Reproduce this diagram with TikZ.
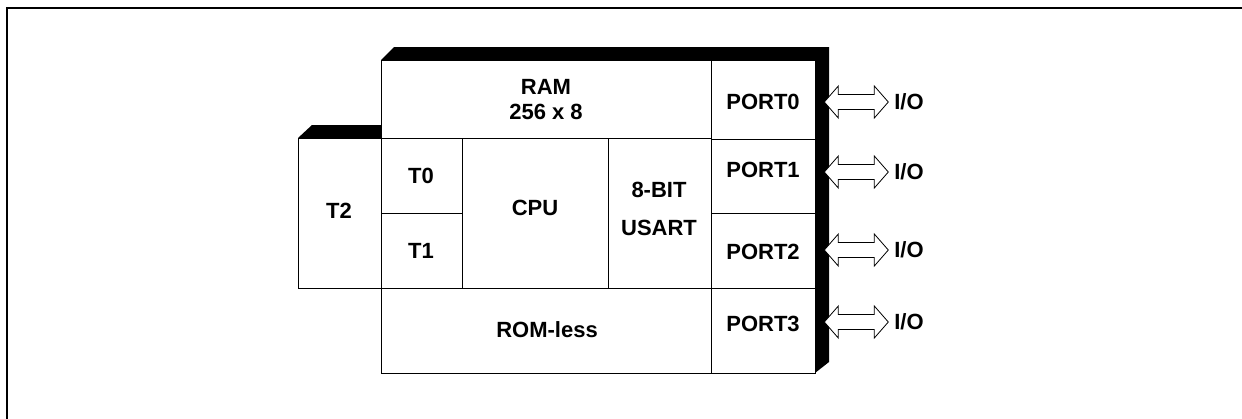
\documentclass[tikz,border=0pt]{standalone}
\usepackage{fontspec}
\setmainfont{Liberation Sans}
\usetikzlibrary{calc}

\tikzset{
    blk/.style={draw, line width=1.3pt, inner sep=0pt, anchor=north west},
    lbl/.style={font=\fontsize{22}{25}\selectfont\bfseries, inner sep=0pt, align=center},
    iobus/.style={draw, line width=0.8pt, fill=white, line join=miter},
}

\begin{document}
\begin{tikzpicture}[x=1pt, y=-1pt]
    \useasboundingbox (0,0) rectangle (1242,418);

    % Marco
    \draw[line width=2pt] (7,440) -- (7,8) -- (1260,8);

    % Sombras negras
    \fill (381,60) -- (394,47) -- (829,47) -- (829,362) -- (815,373) -- (815,60) -- cycle;
    \fill (298,138) -- (312,125) -- (381,125) -- (381,138) -- cycle;

    % Bloques
    \node[blk, minimum width=330, minimum height=78]  (ram)   at (381,60)  {};
    \node[blk, minimum width=81,  minimum height=75]  (t0)    at (381,138) {};
    \node[blk, minimum width=81,  minimum height=75]  (t1)    at (381,213) {};
    \node[blk, minimum width=146, minimum height=150] (cpu)   at (462,138) {};
    \node[blk, minimum width=103, minimum height=150] (usart) at (608,138) {};
    \node[blk, minimum width=330, minimum height=85]  (rom)   at (381,288) {};
    \node[blk, minimum width=83,  minimum height=150] (t2)    at (298,138) {};
    \node[blk, minimum width=104, minimum height=79]  (port0) at (711,60)  {};
    \node[blk, minimum width=104, minimum height=74]  (port1) at (711,139) {};
    \node[blk, minimum width=104, minimum height=75]  (port2) at (711,213) {};
    \node[blk, minimum width=104, minimum height=85]  (port3) at (711,288) {};

    % Textos
    \node[lbl] (ramtxt)   at (546,100) {RAM\\256 x 8};
    \node[lbl] (t0txt)    at (421,176) {T0};
    \node[lbl] (t1txt)    at (421,251) {T1};
    \node[lbl] (t2txt)    at (339,211) {T2};
    \node[lbl] (cputxt)   at (535,208) {CPU};
    \node[lbl, font=\fontsize{22}{38}\selectfont\bfseries] (usarttxt) at (659,209) {8-BIT\\USART};
    \node[lbl] (romtxt)   at (547,330) {ROM-less};
    \node[lbl] (p0txt)    at (763,102) {PORT0};
    \node[lbl] (p1txt)    at (763,170) {PORT1};
    \node[lbl] (p2txt)    at (763,252) {PORT2};
    \node[lbl] (p3txt)    at (763,324) {PORT3};

    % Flechas de E/S
    \foreach \i/\y in {0/102, 1/172, 2/250, 3/322} {
        \node[lbl] (io\i) at (909,\y) {I/O};
        \draw[iobus] ($(port\i.east |- io\i) + (8,0)$)
            -- ++(14,-16) -- ++(0,8.5) -- ++(36,0) -- ++(0,-8.5)
            -- ++(14,16) -- ++(-14,16) -- ++(0,-8.5) -- ++(-36,0)
            -- ++(0,8.5) -- cycle;
    }
\end{tikzpicture}
\end{document}
